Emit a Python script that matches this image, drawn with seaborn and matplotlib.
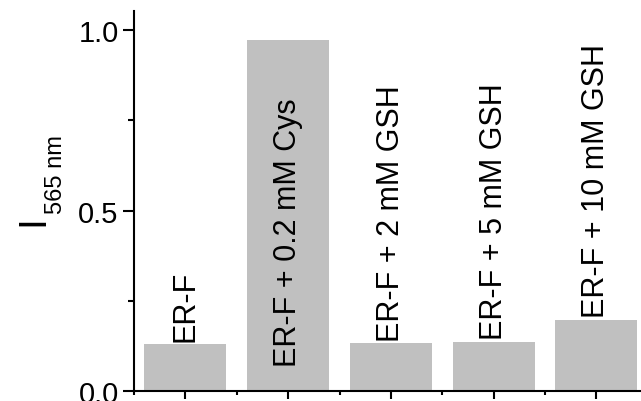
import matplotlib
matplotlib.use("Agg")
import matplotlib.pyplot as plt
import seaborn as sns
import pandas as pd
from matplotlib.ticker import MultipleLocator, FixedLocator

categories = ["ER-F", "ER-F + 0.2 mM Cys", "ER-F + 2 mM GSH",
              "ER-F + 5 mM GSH", "ER-F + 10 mM GSH"]
values = [0.130, 0.972, 0.132, 0.137, 0.197]
label_inside = [False, True, False, False, False]
y_ticks = [0.0, 0.5, 1.0]
y_tick_labels = ["0.0", "0.5", "1.0"]

sns.set_theme(style="ticks")
plt.rcParams['font.family'] = ['Liberation Sans', 'DejaVu Sans']
plt.rcParams['text.color'] = 'black'
plt.rcParams['xtick.color'] = 'black'
plt.rcParams['ytick.color'] = 'black'

df = pd.DataFrame({"cat": categories, "val": values})

fig = plt.figure(figsize=(6.41, 4.02), dpi=100)
ax = fig.add_axes([134 / 641, 10 / 402, 1 - 134 / 641, 380 / 402])

sns.barplot(data=df, x="cat", y="val", color="#c0c0c0", saturation=1,
            width=0.8, ax=ax, edgecolor="none")

ax.set_xlim(-0.5, (641 - 134) / 102.75 - 0.5)
ax.set_ylim(0, 1.053)

for s in ["top", "right"]:
    ax.spines[s].set_visible(False)
for s in ["left", "bottom"]:
    ax.spines[s].set_linewidth(1.5)
    ax.spines[s].set_color("black")

ax.set_yticks(y_ticks)
ax.set_yticklabels(y_tick_labels)
ax.yaxis.set_minor_locator(MultipleLocator(0.25))
ax.set_xticks(range(len(categories)))
ax.set_xticklabels([])
ax.xaxis.set_minor_locator(FixedLocator([i - 0.5 for i in range(len(categories) + 1)]))
ax.tick_params(axis="y", which="major", length=8, width=1.5, direction="out",
               labelsize=21, pad=3, colors="black")
ax.tick_params(axis="y", which="minor", length=4, width=1.5, direction="out")
ax.tick_params(axis="x", which="major", length=5.5, width=1.5, direction="out")
ax.tick_params(axis="x", which="minor", length=3, width=1.5, direction="out")
ax.set_xlabel("")
ax.set_ylabel("")

for i, (cat, v, inside) in enumerate(zip(categories, values, label_inside)):
    if inside:
        ax.annotate(cat, xy=(i, 0), xytext=(0, 18), textcoords="offset points",
                    rotation=90, rotation_mode="anchor", ha="left", va="center",
                    fontsize=22, color="black")
    else:
        ax.annotate(cat, xy=(i, v), xytext=(0, 2), textcoords="offset points",
                    rotation=90, rotation_mode="anchor", ha="left", va="center",
                    fontsize=22, color="black")

# y-axis label: I with subscript
fig.text(43 / 641, (402 - 226) / 402, "I", rotation=90, rotation_mode="anchor",
         ha="left", va="baseline", fontsize=28, color="black")
fig.text(62 / 641, (402 - 214) / 402, "565 nm", rotation=90, rotation_mode="anchor",
         ha="left", va="baseline", fontsize=17, color="black")

fig.savefig("out.png", dpi=100)
